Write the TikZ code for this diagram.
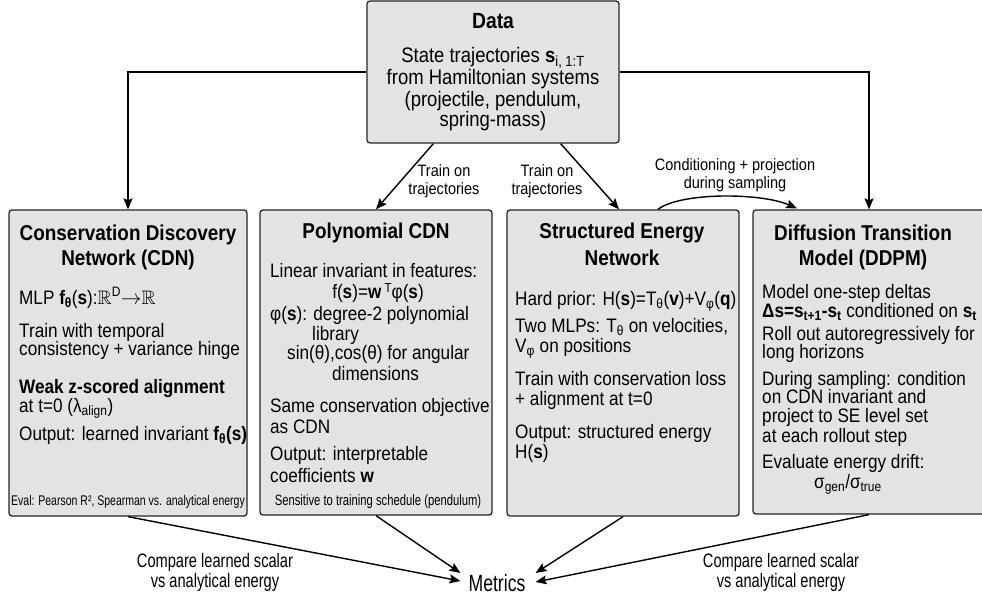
\documentclass[tikz,border=0pt]{standalone}
\usepackage{fontspec}
\usepackage{amssymb}
\setmainfont[FakeStretch=0.88]{Liberation Sans}
\newfontfamily\narrowfont[FakeStretch=0.75]{Liberation Sans}
\usetikzlibrary{arrows.meta,calc}
\newcommand{\bodyfont}{\fontsize{19.5}{20}\selectfont}
\newcommand{\titlefont}{\fontsize{21.5}{22}\selectfont\bfseries}
\newcommand{\mysub}[1]{\textsubscript{#1}}
\tikzset{
  box/.style={draw=black!85, fill=black!11, line width=1.3pt, rounded corners=3pt, inner sep=0pt},
  ln/.style={anchor=west, inner sep=0pt, text height=14pt, text depth=4pt, font=\bodyfont},
  lnc/.style={anchor=center, inner sep=0pt, text height=14pt, text depth=4pt, font=\bodyfont},
  ttl/.style={anchor=center, inner sep=0pt, text height=15.5pt, text depth=5pt, font=\titlefont},
  dl/.style={anchor=center, inner sep=0pt, text height=15pt, text depth=5pt, font=\fontsize{21}{22}\selectfont},
  smalltxt/.style={anchor=center, inner sep=0pt, text height=10pt, text depth=3pt, font=\narrowfont\fontsize{14}{15}\selectfont},
  lbl/.style={align=center, inner sep=0pt, font=\fontsize{16.5}{18.5}\selectfont},
  cmp/.style={align=center, inner sep=0pt, font=\narrowfont\fontsize{19.5}{20}\selectfont},
  conn/.style={line width=1.4pt, black},
  arr/.style={conn, -{Stealth[length=11pt,width=9pt,inset=2pt]}},
}
\begin{document}
\begin{tikzpicture}[x=1pt,y=-1pt]
\fill[white] (0,0) rectangle (982,596);
\useasboundingbox (0,0) rectangle (982,596);

% boxes
\node[box, minimum width=252pt, minimum height=142pt] (data) at (493,72) {};
\node[box, minimum width=238pt, minimum height=306pt] (cdn) at (128,363) {};
\node[box, minimum width=232pt, minimum height=305pt] (poly) at (376,362.5) {};
\node[box, minimum width=232pt, minimum height=306pt] (sen) at (623,363) {};
\node[box, minimum width=232pt, minimum height=304pt] (ddpm) at (869,362) {};

% Data text
\node[ttl, font=\fontsize{22}{22}\selectfont\bfseries] (datat) at (493,23) {Data};
\node[dl] (data1) at (493,58) {State trajectories \textbf{s}\mysub{i, 1:T}};
\node[dl] (data2) at (493,80) {from Hamiltonian systems};
\node[dl] (data3) at (493,102) {(projectile, pendulum,};
\node[dl] (data4) at (493,122) {spring-mass)};

% CDN
\node[ttl] (cdnt1) at (128,235) {Conservation Discovery};
\node[ttl] (cdnt2) at (128,260) {Network (CDN)};
\node[ln] (cdn1) at (19,299) {MLP \textbf{f\mysub{θ}}(\textbf{s}):$\mathbb{R}$\textsuperscript{D}$\rightarrow$$\mathbb{R}$};
\node[ln] (cdn2) at (19,332) {Train with temporal};
\node[ln] (cdn3) at (19,350) {consistency + variance hinge};
\node[ln, font=\bodyfont\bfseries] (cdn4) at (19,388) {Weak z-scored alignment};
\node[ln] (cdn5) at (19,407) {at t=0 (λ\mysub{align})};
\node[ln] (cdn6) at (19,435) {Output: learned invariant \textbf{f\mysub{θ}(s)}};
\node[smalltxt] (cdn7) at (128,502) {Eval: Pearson R², Spearman vs. analytical energy};

% Polynomial CDN
\node[ttl] (polyt) at (376,233) {Polynomial CDN};
\node[ln] (poly1) at (270,272) {Linear invariant in features:};
\node[lnc] (poly2) at (378,293) {f(\textbf{s})=\textbf{w}\,\raisebox{0.55ex}{\fontsize{13}{13}\selectfont T}φ(\textbf{s})};
\node[ln] (poly3) at (270,315) {φ(\textbf{s}): degree-2 polynomial};
\node[ln] (poly4) at (312,335) {library};
\node[ln] (poly5) at (287,354) {sin(θ),cos(θ) for angular};
\node[ln] (poly6) at (332,375) {dimensions};
\node[ln] (poly7) at (270,407) {Same conservation objective};
\node[ln] (poly8) at (270,428) {as CDN};
\node[ln] (poly9) at (270,455) {Output: interpretable};
\node[ln] (poly10) at (270,477) {coefficients \textbf{w}};
\node[smalltxt, font=\narrowfont\fontsize{15}{15}\selectfont] (poly11) at (378,502) {Sensitive to training schedule (pendulum)};

% Structured Energy Network
\node[ttl] (sent1) at (622,233) {Structured Energy};
\node[ttl] (sent2) at (622,260) {Network};
\node[ln] (sen1) at (515,300) {Hard prior: H(\textbf{s})=T\mysub{θ}(\textbf{v})+V\mysub{φ}(\textbf{q})};
\node[ln] (sen2) at (515,327) {Two MLPs: T\mysub{θ} on velocities,};
\node[ln] (sen3) at (515,347) {V\mysub{φ} on positions};
\node[ln] (sen4) at (515,380) {Train with conservation loss};
\node[ln] (sen5) at (515,400) {+ alignment at t=0};
\node[ln] (sen6) at (515,433) {Output: structured energy};
\node[ln] (sen7) at (515,453) {H(\textbf{s})};

% DDPM
\node[ttl] (ddpmt1) at (863,235) {Diffusion Transition};
\node[ttl] (ddpmt2) at (863,260) {Model (DDPM)};
\node[ln] (dd1) at (762,293) {Model one-step deltas};
\node[ln] (dd2) at (762,312) {\textbf{Δs=s\mysub{t+1}-s\mysub{t}} conditioned on \textbf{s\mysub{t}}};
\node[ln] (dd3) at (762,335) {Roll out autoregressively for};
\node[ln] (dd4) at (762,353) {long horizons};
\node[ln] (dd5) at (762,380) {During sampling: condition};
\node[ln] (dd6) at (762,398) {on CDN invariant and};
\node[ln] (dd7) at (762,417) {project to SE level set};
\node[ln] (dd8) at (762,437) {at each rollout step};
\node[ln] (dd9) at (762,463) {Evaluate energy drift:};
\node[lnc] (dd10) at (848,483) {σ\mysub{gen}/σ\mysub{true}};

% labels
\node[lbl] (tr1) at (444,181) {Train on\\trajectories};
\node[lbl] (tr2) at (547,181) {Train on\\trajectories};
\node[lbl] (cond) at (735,175) {Conditioning + projection\\during sampling};
\node[cmp] (cmp1) at (215,572) {Compare learned scalar\\vs analytical energy};
\node[cmp] (cmp2) at (781,572) {Compare learned scalar\\vs analytical energy};
\node[inner sep=0pt, font=\narrowfont\fontsize{23.5}{24}\selectfont] (metrics) at (497,583) {Metrics};

% connectors
\draw[arr] (data.west) -| (cdn.north);
\draw[arr] (data.east) -| (ddpm.north);
\draw[arr] ([xshift=67pt]data.south west) -- (poly.north);
\draw[arr] ([xshift=-59pt]data.south east) -- ([xshift=-4pt]sen.north);
\draw[arr] ([xshift=35pt]sen.north) .. controls +(22,-17) and +(-37,-16) .. ([xshift=-72pt,yshift=1pt]ddpm.north);
\draw[arr] (cdn.south) -- ([xshift=-8pt,yshift=2pt]metrics.west);
\draw[arr] (poly.south) -- ([xshift=-8pt,yshift=10pt]metrics.west);
\draw[arr] (sen.south) -- ([xshift=10pt,yshift=10pt]metrics.east);
\draw[arr] (ddpm.south) -- ([xshift=10pt,yshift=1pt]metrics.east);
\end{tikzpicture}
\end{document}
